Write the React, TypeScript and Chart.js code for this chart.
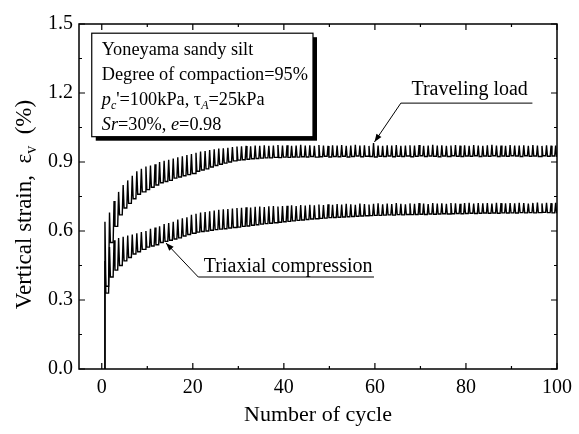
import React, { useEffect, useRef } from "react";
import { Chart, registerables } from "chart.js";

Chart.register(...registerables);

// ---- data ----
const xTicks = [0, 20, 40, 60, 80, 100];
const xMinor = [10, 30, 50, 70, 90];
const yTicks = [0, 0.3, 0.6, 0.9, 1.2, 1.5];
const yMinor = [0.15, 0.45, 0.75, 1.05, 1.35];

// Traveling load: peak and residual (trough) strain in each cycle 1..100
const tlPeaks = [
  0.64, 0.68, 0.73, 0.77, 0.80, 0.82, 0.84, 0.86, 0.87, 0.88,
  0.885, 0.89, 0.90, 0.905, 0.91, 0.915, 0.92, 0.925, 0.93, 0.935,
  0.94, 0.945, 0.948, 0.952, 0.955, 0.958, 0.96, 0.962, 0.965, 0.967,
  0.968, 0.97, 0.968, 0.972, 0.97, 0.973, 0.97, 0.972, 0.974, 0.971,
  0.973, 0.97, 0.972, 0.975, 0.971, 0.973, 0.97, 0.974, 0.972, 0.97,
  0.973, 0.971, 0.974, 0.97, 0.972, 0.975, 0.971, 0.973, 0.97, 0.982,
  0.972, 0.97, 0.973, 0.971, 0.974, 0.97, 0.972, 0.973, 0.971, 0.974,
  0.97, 0.972, 0.975, 0.971, 0.973, 0.97, 0.972, 0.974, 0.971, 0.973,
  0.97, 0.974, 0.972, 0.97, 0.973, 0.975, 0.971, 0.972, 0.97, 0.974,
  0.972, 0.971, 0.973, 0.97, 0.974, 0.972, 0.97, 0.973, 0.971, 0.972,
];
const tlTroughs = [
  0.36, 0.55, 0.62, 0.67, 0.70, 0.72, 0.74, 0.76, 0.77, 0.78,
  0.79, 0.80, 0.81, 0.815, 0.82, 0.83, 0.835, 0.84, 0.845, 0.85,
  0.86, 0.865, 0.87, 0.878, 0.885, 0.89, 0.895, 0.90, 0.905, 0.908,
  0.91, 0.912, 0.914, 0.915, 0.917, 0.918, 0.918, 0.92, 0.919, 0.921,
  0.92, 0.922, 0.921, 0.923, 0.922, 0.924, 0.921, 0.923, 0.925, 0.922,
  0.924, 0.923, 0.925, 0.922, 0.924, 0.926, 0.923, 0.925, 0.924, 0.922,
  0.925, 0.924, 0.926, 0.923, 0.925, 0.924, 0.926, 0.923, 0.925, 0.927,
  0.924, 0.926, 0.925, 0.923, 0.926, 0.924, 0.927, 0.925, 0.924, 0.926,
  0.925, 0.927, 0.924, 0.926, 0.925, 0.927, 0.924, 0.926, 0.925, 0.927,
  0.926, 0.924, 0.927, 0.925, 0.926, 0.924, 0.927, 0.925, 0.926, 0.925,
];

// Triaxial compression: peak and residual (trough) strain in each cycle 1..100
const tcPeaks = [
  0.47, 0.53, 0.56, 0.57, 0.575, 0.58, 0.585, 0.59, 0.595, 0.60,
  0.61, 0.615, 0.62, 0.63, 0.635, 0.64, 0.65, 0.655, 0.66, 0.67,
  0.675, 0.68, 0.683, 0.686, 0.689, 0.692, 0.694, 0.696, 0.698, 0.70,
  0.701, 0.703, 0.702, 0.705, 0.706, 0.704, 0.707, 0.708, 0.706, 0.709,
  0.71, 0.712, 0.709, 0.713, 0.711, 0.714, 0.712, 0.715, 0.713, 0.716,
  0.714, 0.717, 0.715, 0.718, 0.716, 0.714, 0.719, 0.717, 0.715, 0.718,
  0.72, 0.716, 0.719, 0.717, 0.721, 0.718, 0.716, 0.72, 0.718, 0.721,
  0.719, 0.717, 0.722, 0.719, 0.72, 0.718, 0.722, 0.72, 0.718, 0.721,
  0.723, 0.719, 0.721, 0.72, 0.722, 0.719, 0.723, 0.721, 0.72, 0.722,
  0.72, 0.723, 0.721, 0.719, 0.722, 0.724, 0.72, 0.722, 0.721, 0.723,
];
const tcTroughs = [
  0.33, 0.40, 0.43, 0.45, 0.47, 0.485, 0.50, 0.51, 0.52, 0.53,
  0.535, 0.54, 0.55, 0.555, 0.56, 0.565, 0.57, 0.578, 0.585, 0.59,
  0.595, 0.598, 0.60, 0.603, 0.606, 0.608, 0.61, 0.613, 0.615, 0.617,
  0.62, 0.622, 0.625, 0.627, 0.63, 0.632, 0.634, 0.636, 0.638, 0.64,
  0.642, 0.644, 0.646, 0.648, 0.65, 0.652, 0.653, 0.655, 0.656, 0.658,
  0.659, 0.66, 0.661, 0.662, 0.663, 0.664, 0.665, 0.666, 0.667, 0.668,
  0.668, 0.669, 0.67, 0.669, 0.671, 0.67, 0.672, 0.671, 0.672, 0.673,
  0.672, 0.674, 0.673, 0.674, 0.675, 0.674, 0.675, 0.676, 0.675, 0.676,
  0.677, 0.676, 0.677, 0.678, 0.677, 0.678, 0.677, 0.679, 0.678, 0.679,
  0.678, 0.68, 0.679, 0.68, 0.679, 0.68, 0.681, 0.68, 0.679, 0.68,
];

const startCycle = 0.6;

const SERIF = "'Liberation Serif', 'Times New Roman', 'DejaVu Serif', serif";

type Seg = { t: string; it?: boolean; sub?: boolean };

// each cycle: load up to the peak, unload to the residual strain, rest at the residual
function buildSeries(peaks: number[], troughs: number[]) {
  const pts: { x: number; y: number }[] = [{ x: startCycle, y: 0 }];
  for (let i = 0; i < peaks.length; i++) {
    const n = i + 1;
    pts.push({ x: n - 0.3, y: peaks[i] });
    pts.push({ x: n - 0.1, y: troughs[i] });
    pts.push({ x: n + 0.5, y: troughs[i] });
  }
  return pts;
}

function segFont(s: Seg, size: number) {
  const sz = s.sub ? Math.round(size * 0.68) : size;
  return `${s.it ? "italic " : ""}${sz}px ${SERIF}`;
}

function drawRich(ctx: CanvasRenderingContext2D, segs: Seg[], x: number, y: number, size: number, align: "left" | "center") {
  let total = 0;
  for (const s of segs) {
    ctx.font = segFont(s, size);
    total += ctx.measureText(s.t).width;
  }
  let cx = align === "center" ? x - total / 2 : x;
  ctx.textAlign = "left";
  ctx.textBaseline = "alphabetic";
  for (const s of segs) {
    ctx.font = segFont(s, size);
    ctx.fillText(s.t, cx, s.sub ? y + size * 0.22 : y);
    cx += ctx.measureText(s.t).width;
  }
}

function arrowHead(ctx: CanvasRenderingContext2D, fx: number, fy: number, tx: number, ty: number) {
  const a = Math.atan2(ty - fy, tx - fx);
  const L = 8, W = 3;
  ctx.beginPath();
  ctx.moveTo(tx, ty);
  ctx.lineTo(tx - L * Math.cos(a) + W * Math.sin(a), ty - L * Math.sin(a) - W * Math.cos(a));
  ctx.lineTo(tx - L * Math.cos(a) - W * Math.sin(a), ty - L * Math.sin(a) + W * Math.cos(a));
  ctx.closePath();
  ctx.fill();
}

const decor = {
  id: "decor",
  afterDraw(chart: any) {
    const ctx: CanvasRenderingContext2D = chart.ctx;
    const { left, right, top, bottom } = chart.chartArea;
    const xs = chart.scales.x;
    const ys = chart.scales.y;
    ctx.save();
    ctx.strokeStyle = "#000";
    ctx.fillStyle = "#000";
    // frame
    ctx.lineWidth = 1.5;
    ctx.strokeRect(left, top, right - left, bottom - top);
    // ticks
    ctx.lineWidth = 1.2;
    ctx.beginPath();
    const tk = (v: number, len: number) => {
      const px = xs.getPixelForValue(v);
      ctx.moveTo(px, bottom); ctx.lineTo(px, bottom - len);
      ctx.moveTo(px, top); ctx.lineTo(px, top + len);
    };
    xTicks.forEach((v) => tk(v, 6));
    xMinor.forEach((v) => tk(v, 3));
    const tky = (v: number, len: number) => {
      const py = ys.getPixelForValue(v);
      ctx.moveTo(left, py); ctx.lineTo(left + len, py);
      ctx.moveTo(right, py); ctx.lineTo(right - len, py);
    };
    yTicks.forEach((v) => tky(v, 6));
    yMinor.forEach((v) => tky(v, 3));
    ctx.stroke();

    // legend box with shadow
    const bx = xs.getPixelForValue(-2.2), by = ys.getPixelForValue(1.46);
    const bx2 = xs.getPixelForValue(46.4), by2 = ys.getPixelForValue(1.01);
    ctx.fillStyle = "#000";
    ctx.fillRect(bx + 4, by + 4, bx2 - bx, by2 - by);
    ctx.fillStyle = "#fff";
    ctx.fillRect(bx, by, bx2 - bx, by2 - by);
    ctx.lineWidth = 1.2;
    ctx.strokeRect(bx, by, bx2 - bx, by2 - by);
    ctx.fillStyle = "#000";
    const fs = 18.3;
    const tx = bx + 10;
    drawRich(ctx, [{ t: "Yoneyama sandy silt" }], tx, by + 22, fs, "left");
    drawRich(ctx, [{ t: "Degree of compaction=95%" }], tx, by + 47, fs, "left");
    drawRich(ctx, [
      { t: "p", it: true }, { t: "c", it: true, sub: true }, { t: "'=100kPa, " },
      { t: "τ" }, { t: "A", it: true, sub: true }, { t: "=25kPa" },
    ], tx, by + 72, fs, "left");
    drawRich(ctx, [
      { t: "Sr", it: true }, { t: "=30%, " }, { t: "e", it: true }, { t: "=0.98" },
    ], tx, by + 97, fs, "left");

    // Traveling load annotation
    ctx.lineWidth = 1;
    const u1x = xs.getPixelForValue(65.7), u1y = ys.getPixelForValue(1.156);
    const u1x2 = xs.getPixelForValue(94.6);
    const a1x = xs.getPixelForValue(59.9), a1y = ys.getPixelForValue(0.987);
    ctx.beginPath();
    ctx.moveTo(u1x2, u1y); ctx.lineTo(u1x, u1y); ctx.lineTo(a1x, a1y);
    ctx.stroke();
    arrowHead(ctx, u1x, u1y, a1x, a1y);
    drawRich(ctx, [{ t: "Traveling load" }], (u1x + u1x2) / 2 + 3, u1y - 8, 20, "center");

    // Triaxial compression annotation
    const u2x = xs.getPixelForValue(21.2), u2y = ys.getPixelForValue(0.4);
    const u2x2 = xs.getPixelForValue(59.8);
    const a2x = xs.getPixelForValue(14.1), a2y = ys.getPixelForValue(0.548);
    ctx.beginPath();
    ctx.moveTo(u2x2, u2y); ctx.lineTo(u2x, u2y); ctx.lineTo(a2x, a2y);
    ctx.stroke();
    arrowHead(ctx, u2x, u2y, a2x, a2y);
    drawRich(ctx, [{ t: "Triaxial compression" }], (u2x + u2x2) / 2 + 2, u2y - 5, 20, "center");

    // axis titles
    drawRich(ctx, [{ t: "Number of cycle" }], (left + right) / 2, 421, 22, "center");
    ctx.save();
    ctx.translate(31, (top + bottom) / 2 + 8);
    ctx.rotate(-Math.PI / 2);
    drawRich(ctx, [{ t: "Vertical strain,  ε" }, { t: "v", sub: true }, { t: "  (%)" }], 0, 0, 23, "center");
    ctx.restore();

    ctx.restore();
  },
};

export default function App() {
  const ref = useRef<HTMLCanvasElement | null>(null);
  useEffect(() => {
    if (!ref.current) return;
    const chart = new Chart(ref.current, {
      type: "line",
      data: {
        datasets: [
          {
            label: "Traveling load",
            data: buildSeries(tlPeaks, tlTroughs),
            borderColor: "#000",
            borderWidth: 1.4,
            pointRadius: 0,
            tension: 0,
            fill: false,
          },
          {
            label: "Triaxial compression",
            data: buildSeries(tcPeaks, tcTroughs),
            borderColor: "#000",
            borderWidth: 1.4,
            pointRadius: 0,
            tension: 0,
            fill: false,
          },
        ],
      },
      options: {
        animation: false,
        responsive: false,
        parsing: false as any,
        layout: { padding: { left: 0, top: 24, right: 16, bottom: 0 } },
        plugins: { legend: { display: false }, tooltip: { enabled: false }, title: { display: false } },
        scales: {
          x: {
            type: "linear",
            min: -5,
            max: 100,
            grid: { display: false, drawTicks: false },
            border: { display: false },
            afterBuildTicks: (s: any) => { s.ticks = xTicks.map((v) => ({ value: v })); },
            afterFit: (s: any) => { s.height = 65; },
            ticks: {
              color: "#000",
              padding: 7,
              maxRotation: 0,
              font: { family: SERIF, size: 20 },
              callback: (v: any) => String(v),
            },
          },
          y: {
            type: "linear",
            min: 0,
            max: 1.5,
            grid: { display: false, drawTicks: false },
            border: { display: false },
            afterBuildTicks: (s: any) => { s.ticks = yTicks.map((v) => ({ value: v })); },
            afterFit: (s: any) => { s.width = 79; },
            ticks: {
              color: "#000",
              padding: 6,
              font: { family: SERIF, size: 20 },
              callback: (v: any) => Number(v).toFixed(1),
            },
          },
        },
      },
      plugins: [decor],
    });
    return () => chart.destroy();
  }, []);
  return (
    <div style={{ position: "fixed", left: 0, top: 0, width: 579, height: 434, background: "#fff" }}>
      <canvas ref={ref} width={579} height={434} style={{ width: 579, height: 434 }} />
    </div>
  );
}
